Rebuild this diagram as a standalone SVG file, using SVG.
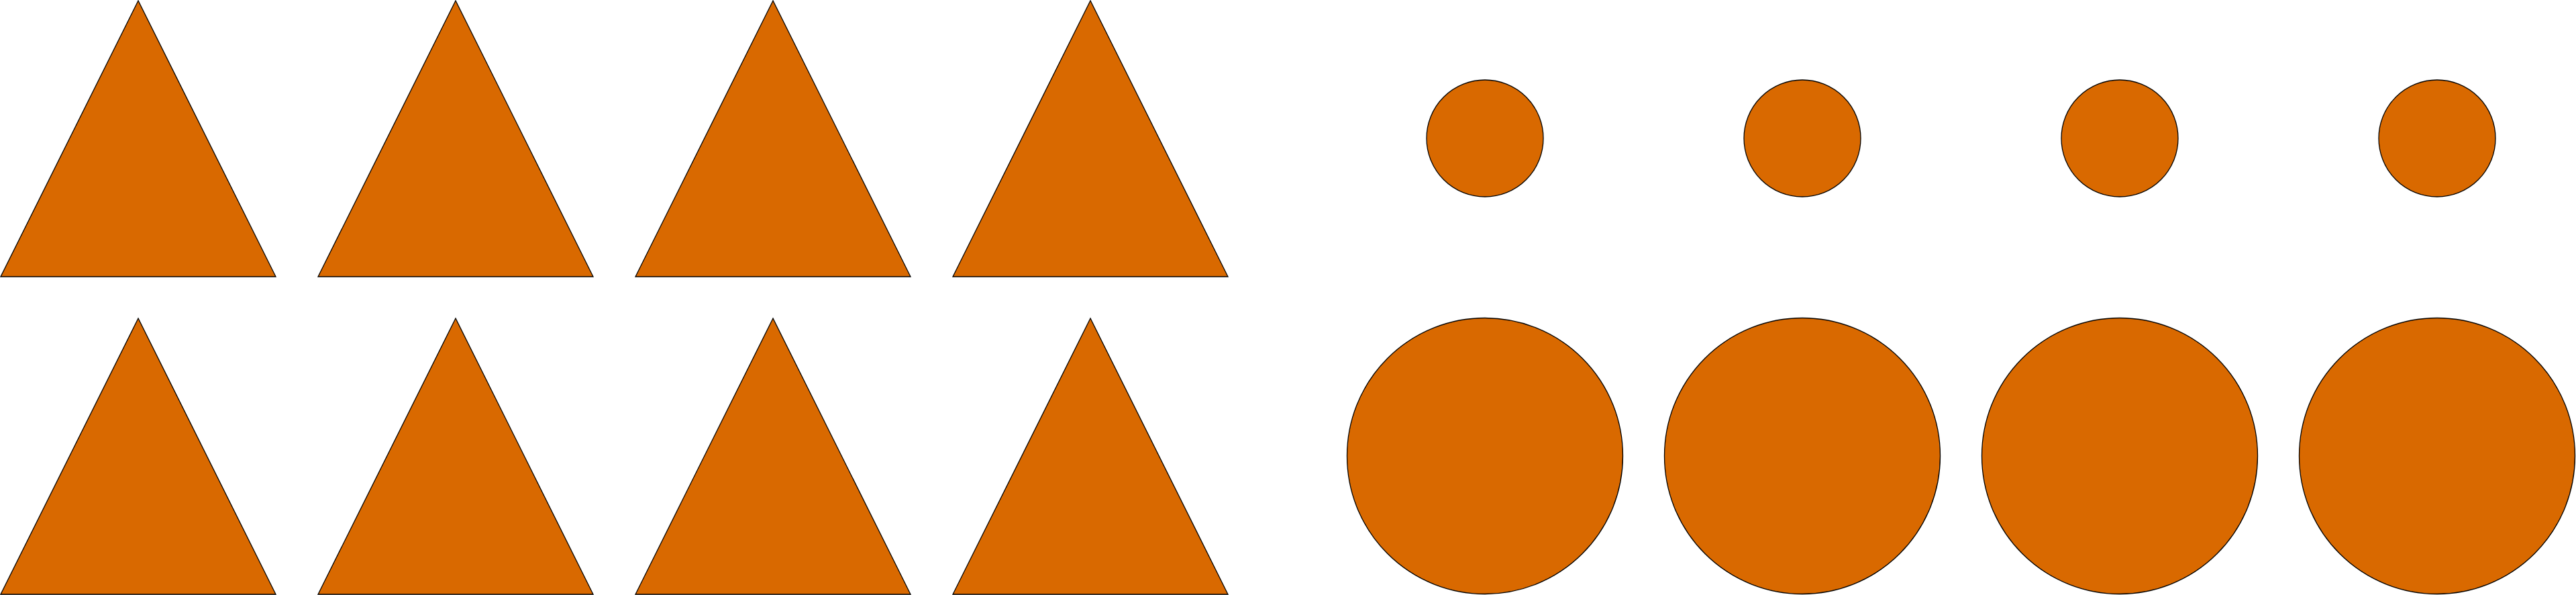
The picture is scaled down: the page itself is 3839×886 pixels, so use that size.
<svg xmlns="http://www.w3.org/2000/svg" width="3839" height="886" viewBox="0 0 3839 886">
<style>
.s{fill:#d96900;stroke:#000;stroke-width:1.3}
</style>
<defs>
<polygon id="tri" points="206,1 1,412 411,412"/>
</defs>
<rect width="3839" height="886" fill="#fff"/>
<g id="tri-1-1"><use href="#tri" class="s" x="0" y="0"/></g>
<g id="tri-1-2"><use href="#tri" class="s" x="473" y="0"/></g>
<g id="tri-1-3"><use href="#tri" class="s" x="946" y="0"/></g>
<g id="tri-1-4"><use href="#tri" class="s" x="1419" y="0"/></g>
<g id="tri-2-1"><use href="#tri" class="s" x="0" y="473"/></g>
<g id="tri-2-2"><use href="#tri" class="s" x="473" y="473"/></g>
<g id="tri-2-3"><use href="#tri" class="s" x="946" y="473"/></g>
<g id="tri-2-4"><use href="#tri" class="s" x="1419" y="473"/></g>
<g id="circ-s-1"><circle class="s" cx="2213" cy="206" r="87"/></g>
<g id="circ-s-2"><circle class="s" cx="2686" cy="206" r="87"/></g>
<g id="circ-s-3"><circle class="s" cx="3159" cy="206" r="87"/></g>
<g id="circ-s-4"><circle class="s" cx="3632" cy="206" r="87"/></g>
<g id="circ-l-1"><circle class="s" cx="2213" cy="679" r="205.5"/></g>
<g id="circ-l-2"><circle class="s" cx="2686" cy="679" r="205.5"/></g>
<g id="circ-l-3"><circle class="s" cx="3159" cy="679" r="205.5"/></g>
<g id="circ-l-4"><circle class="s" cx="3632" cy="679" r="205.5"/></g>
<g id="connectors"/>
</svg>
